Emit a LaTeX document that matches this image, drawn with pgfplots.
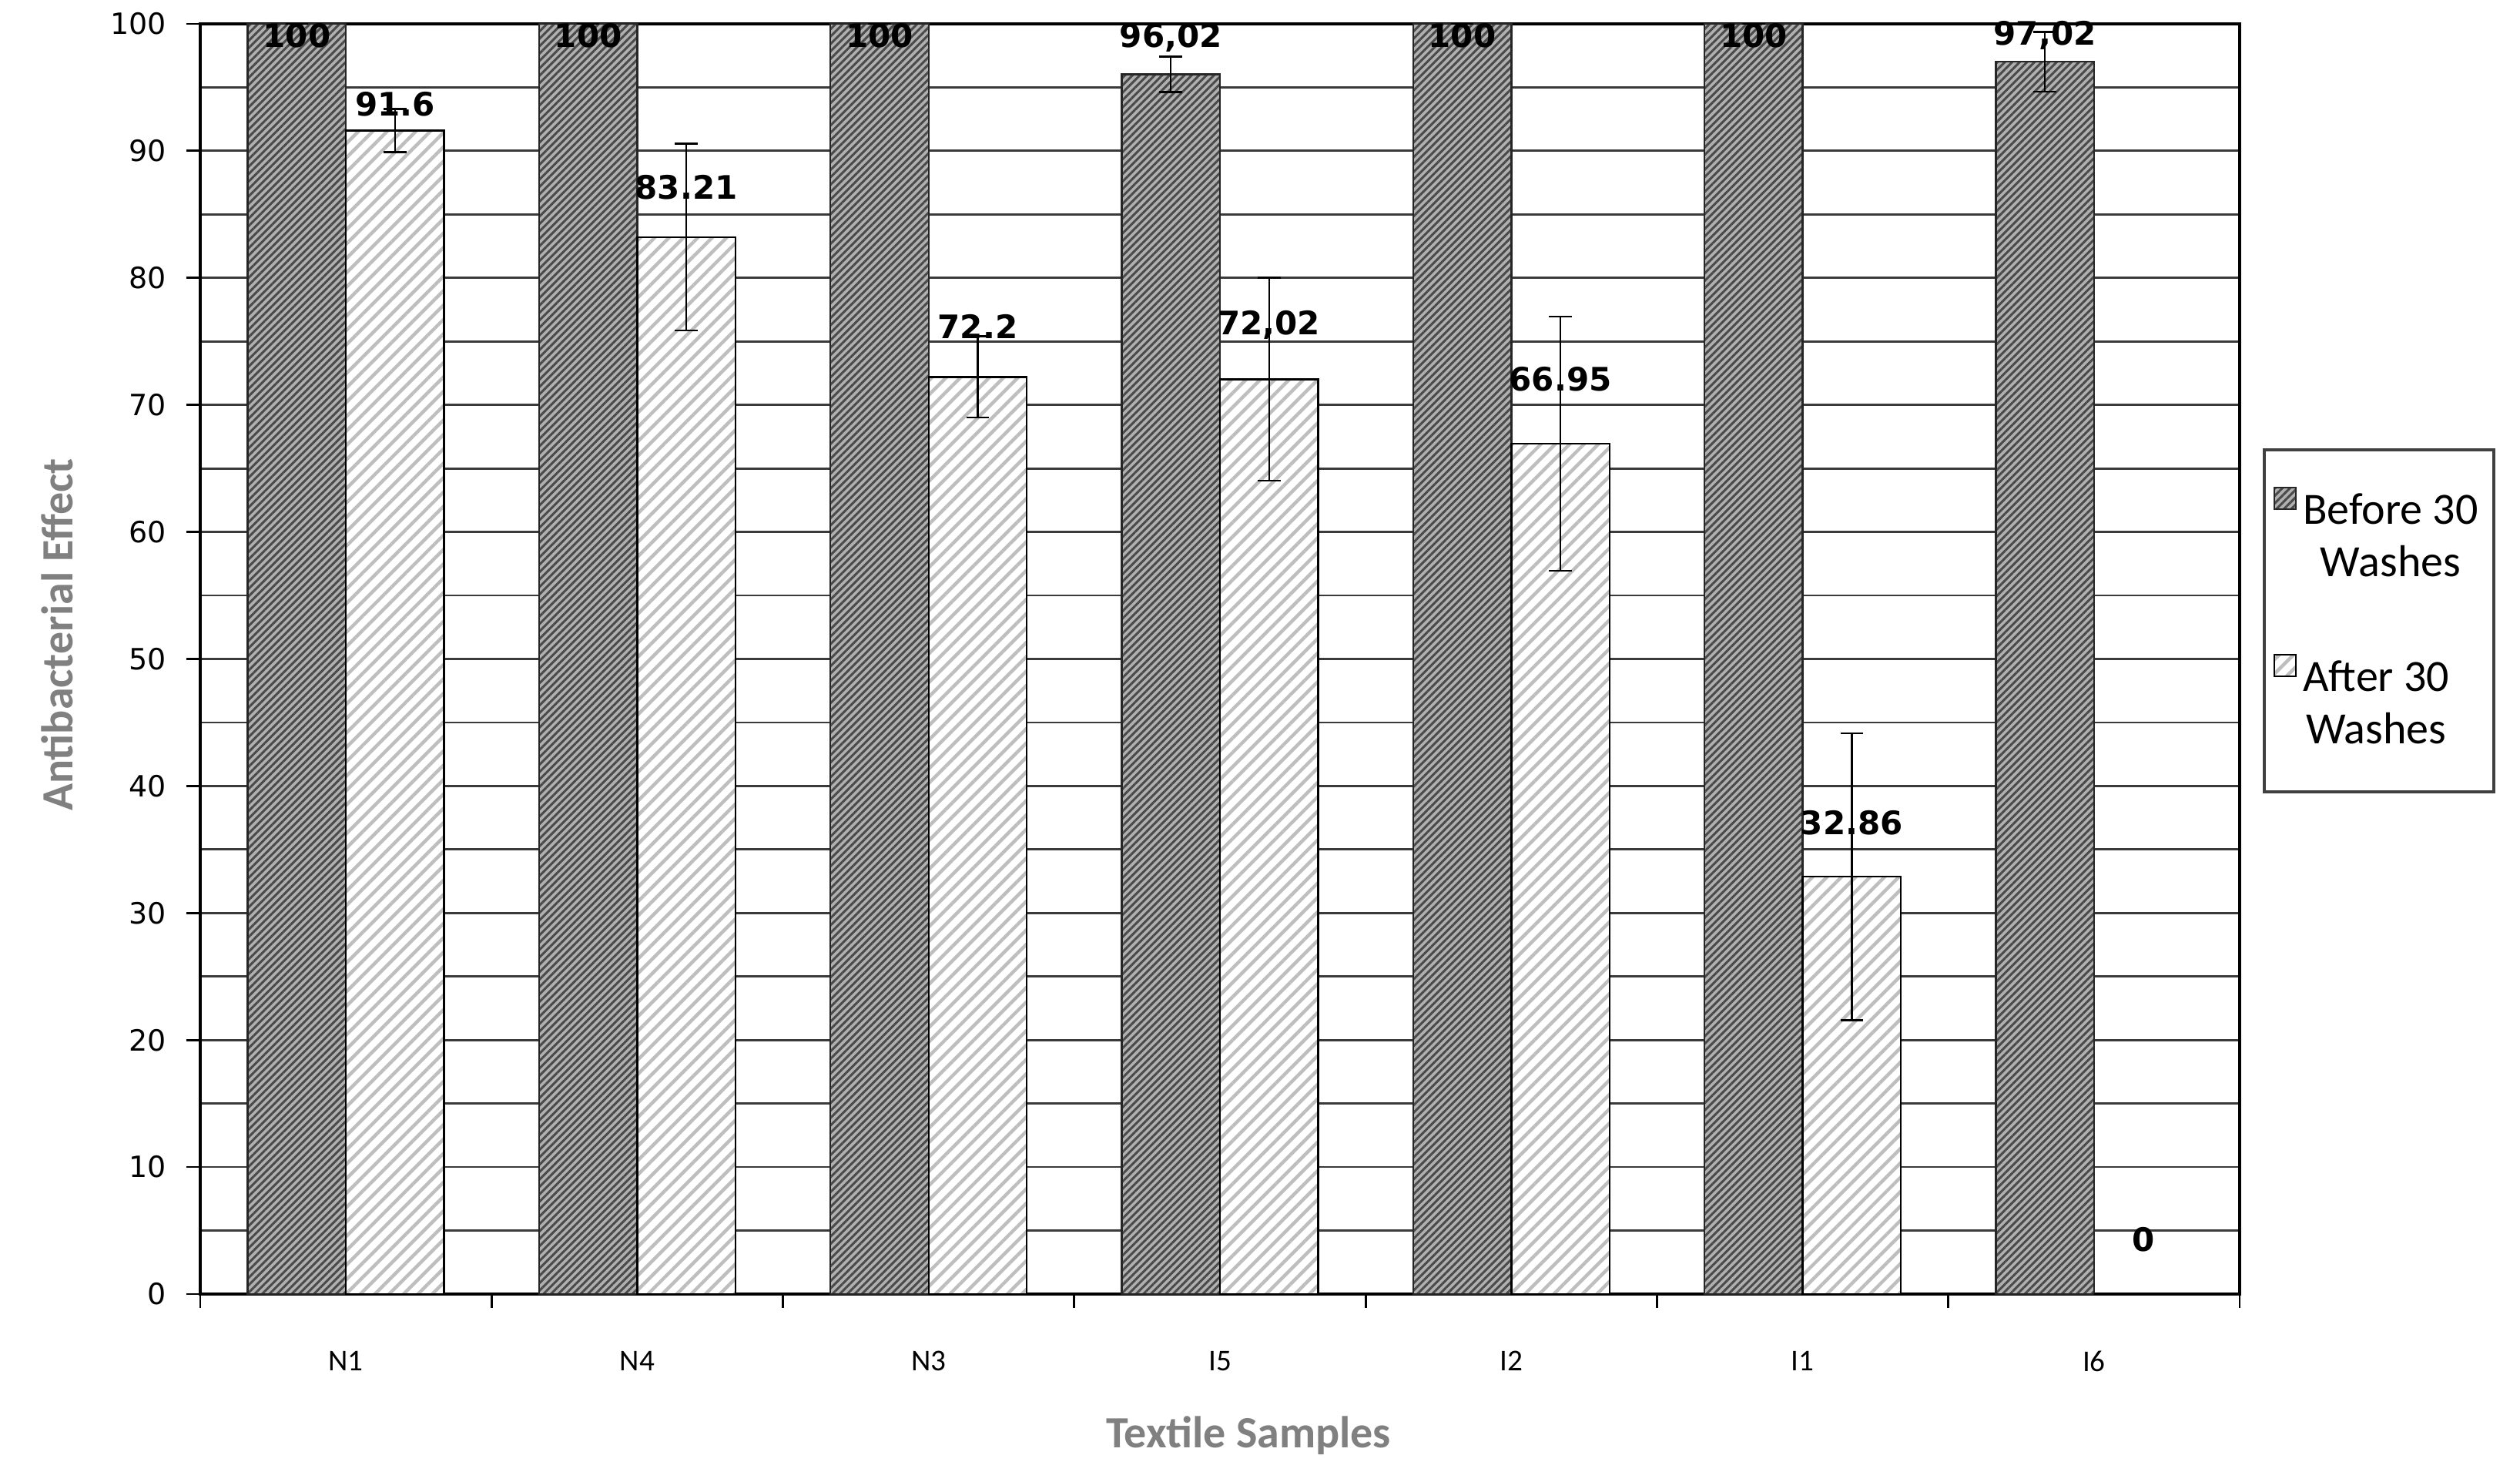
\documentclass[border=0pt]{standalone}
\usepackage{pgfplots}
\pgfplotsset{compat=1.18}
\usetikzlibrary{patterns.meta}
\usepackage{fontspec}
\setmainfont{Carlito}
\newfontfamily\dejavu{DejaVu Sans}
\definecolor{gridc}{HTML}{3A3A3A}
\definecolor{titlegray}{HTML}{808080}
\definecolor{befbg}{HTML}{B0B0B0}
\definecolor{befline}{HTML}{4A4A4A}
\definecolor{aftline}{HTML}{BEBEBE}
\tikzset{
 beforebar/.style={fill=befbg, draw=black!85, line width=0.6pt,
   postaction={pattern color=befline, pattern={Lines[angle=45,distance=1.7pt,line width=0.75pt]}}},
 afterbar/.style={fill=white, draw=black, line width=0.6pt,
   postaction={pattern color=aftline, pattern={Lines[angle=45,distance=3.3pt,line width=1.1pt]}}},
}
\pgfplotsset{
 sqlegend/.style={legend image code/.code={%
  \draw[##1, line width=0.6pt] (1pt,4.5pt) rectangle (8pt,11.5pt);}},
 sqlegendB/.style={legend image code/.code={%
  \draw[##1, line width=0.6pt] (1pt,4.5pt) rectangle (8pt,11.5pt);
  \path[line cap=butt] (1pt,-21.7pt) -- (1pt,-21.7pt);}},
}
\begin{document}
\begin{tikzpicture}
\path (-65pt,-61pt) rectangle (753pt,420pt);
\begin{axis}[
  at={(0,0)}, anchor=south west,
  scale only axis, width=662pt, height=412.25pt,
  xmin=-0.5, xmax=6.5, ymin=0, ymax=100,
  clip=false,
  axis line style={black, line width=0.8pt},
  tick pos=left, tick align=outside,
  major tick length=4.5pt, minor tick length=0pt,
  tick style={black, line width=0.7pt},
  xtick={-0.5,0.5,...,6.5}, xticklabels={},
  extra x ticks={0,1,2,3,4,5,6},
  extra x tick labels={N1,N4,N3,I5,I2,I1,I6},
  extra x tick style={major tick length=0pt,
     xticklabel style={font=\fontsize{9.8}{11}\selectfont, yshift=-15pt}},
  ytick={0,10,...,100}, minor ytick={5,15,...,95},
  ymajorgrids, yminorgrids,
  major grid style={gridc, line width=0.7pt},
  minor grid style={gridc, line width=0.7pt},
  yticklabel style={font=\dejavu\fontsize{9.5}{11}\selectfont, xshift=-3pt, /pgf/number format/assume math mode=true},
  xlabel={Textile Samples},
  xlabel style={font=\bfseries\fontsize{14.5}{17}\selectfont, text=titlegray,
     at={(axis description cs:0.514,0)}, anchor=center, yshift=-46pt},
  ylabel={Antibacterial Effect},
  ylabel style={font=\bfseries\fontsize{14.5}{17}\selectfont, text=titlegray,
     at={(axis description cs:-0.07,0.519)}, anchor=center},
  legend cell align=left,
  legend style={at={(axis description cs:1.0113,0.666)}, anchor=north west,
     draw=black!75, line width=1pt, font=\fontsize{14.5}{16}\selectfont,
     inner xsep=3pt, inner ysep=11pt, row sep=28.6pt},
]
\addplot[ybar, bar width=0.337, bar shift=0, beforebar, sqlegend,
  error bars/.cd, y dir=both, y explicit,
  error bar style={black, line width=0.6pt},
  error mark options={rotate=90, mark size=3.7pt, black, line width=0.6pt}]
  coordinates {(-0.1685,100) +- (0,0) (0.8315,100) +- (0,0) (1.8315,100) +- (0,0) (2.8315,96.02) +- (0,1.4) (3.8315,100) +- (0,0) (4.8315,100) +- (0,0) (5.8315,97.02) +- (0,2.35)};
\addlegendentry{{\begin{tabular}{@{}c@{}}Before 30\\[1pt]Washes\end{tabular}}}
\addplot[ybar, bar width=0.337, bar shift=0, afterbar, sqlegendB,
  error bars/.cd, y dir=both, y explicit,
  error bar style={black, line width=0.6pt},
  error mark options={rotate=90, mark size=3.7pt, black, line width=0.6pt}]
  coordinates {(0.1685,91.6) +- (0,1.7) (1.1685,83.21) +- (0,7.35) (2.1685,72.2) +- (0,3.2) (3.1685,72.02) +- (0,8) (4.1685,66.95) +- (0,10) (5.1685,32.86) +- (0,11.3) (6.1685,0) +- (0,0)};
\addlegendentry{{\begin{tabular}{@{}c@{}}After 30\\[1pt]Washes\end{tabular}}}
\addplot[draw=none, mark=none, forget plot, point meta=explicit symbolic,
  nodes near coords, nodes near coords style={anchor=center, inner sep=0pt, font=\dejavu\bfseries\fontsize{10.5}{12}\selectfont}]
  coordinates {(-0.1685,99.1)[100] (0.8315,99.1)[100] (1.8315,99.1)[100] (2.8315,98.9)[96,02] (3.8315,99.1)[100] (4.8315,99.1)[100] (5.8315,99.1)[97,02]
   (0.1685,93.7)[91.6] (1.1685,87.1)[83.21] (2.1685,76.2)[72.2] (3.1685,76.3)[72,02] (4.1685,72.0)[66.95] (5.1685,37.1)[32.86] (6.1685,4.3)[0]};
\end{axis}
\end{tikzpicture}
\end{document}
